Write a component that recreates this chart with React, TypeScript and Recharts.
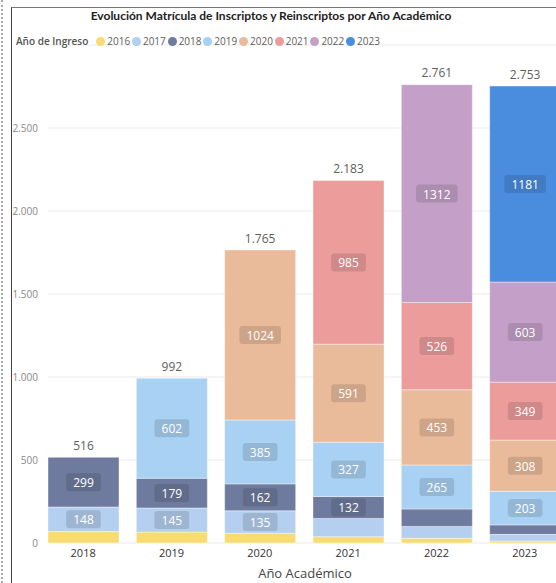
import React from "react";
import { BarChart, Bar, XAxis, YAxis, CartesianGrid, LabelList } from "recharts";

// Año académico (eje X)
const years = ["2018", "2019", "2020", "2021", "2022", "2023"];
// Año de ingreso (series apiladas)
const ingresos = ["2016", "2017", "2018", "2019", "2020", "2021", "2022", "2023"];

const ing2016 = [69, 66, 59, 38, 28, 12];
const ing2017 = [148, 145, 135, 110, 72, 40];
const ing2018 = [299, 179, 162, 132, 105, 57];
const ing2019 = [0, 602, 385, 327, 265, 203];
const ing2020 = [0, 0, 1024, 591, 453, 308];
const ing2021 = [0, 0, 0, 985, 526, 349];
const ing2022 = [0, 0, 0, 0, 1312, 603];
const ing2023 = [0, 0, 0, 0, 0, 1181];

const yTicks = [0, 500, 1000, 1500, 2000, 2500];

const colors = [
  "#F8DC72",
  "#B4CFEF",
  "#6E7B9E",
  "#A9D1F3",
  "#EABB9A",
  "#EC9C9B",
  "#C4A0C8",
  "#4A8CDE",
];

const series = [ing2016, ing2017, ing2018, ing2019, ing2020, ing2021, ing2022, ing2023];

const data = years.map((year, i) => {
  const row: Record<string, any> = { year };
  let total = 0;
  series.forEach((s, k) => {
    row["i" + ingresos[k]] = s[i];
    total += s[i];
  });
  row.total = total;
  return row;
});

const FONT = "'Segoe UI', 'Open Sans', sans-serif";

const CHART_W = 580;
const PLOT_LEFT = 39;
const PLOT_RIGHT = 11;
const BAND = (CHART_W - PLOT_LEFT - PLOT_RIGHT) / years.length;

const fmt = (n: number) => String(n).replace(/\B(?=(\d{3})+(?!\d))/g, ".");

// last non-zero series in a column gets the total above it
const topIndex = (i: number) => {
  let top = 0;
  series.forEach((s, k) => {
    if (s[i] > 0) top = k;
  });
  return top;
};

const makeLabel = (k: number) => (props: any) => {
  const { x, y, width, height } = props;
  const cx = x + width / 2;
  // which column this rect belongs to (zero-height rects are skipped, so index is unreliable)
  const col = Math.max(0, Math.min(years.length - 1, Math.floor((cx - PLOT_LEFT) / BAND)));
  const v = series[k][col];
  const out: React.ReactNode[] = [];
  if (v >= 120) {
    const w = String(v).length * 6.9 + 14;
    out.push(
      <g key="seg">
        <rect x={cx - w / 2} y={y + height / 2 - 9} width={w} height={18} rx={3} fill="rgba(0,0,0,0.12)" />
        <text
          x={cx}
          y={y + height / 2 + 0.5}
          textAnchor="middle"
          dominantBaseline="central"
          fill="#FFFFFF"
          fontSize={12}
          fontFamily={FONT}
        >
          {v}
        </text>
      </g>
    );
  }
  if (v > 0 && topIndex(col) === k) {
    out.push(
      <text
        key="tot"
        x={cx}
        y={y - 12}
        textAnchor="middle"
        dominantBaseline="central"
        fill="#605E5C"
        fontSize={12}
        fontFamily={FONT}
      >
        {fmt(data[col].total)}
      </text>
    );
  }
  return <g>{out}</g>;
};

export default function App() {
  return (
    <div
      style={{
        position: "fixed",
        left: 0,
        top: 0,
        width: 556,
        height: 583,
        overflow: "hidden",
        background: "#fff",
        fontFamily: FONT,
      }}
    >
      <div style={{ position: "absolute", left: 1, top: 0, height: 583, borderLeft: "2px dotted #AAA" }} />
      <div style={{ position: "absolute", left: 11, top: 7, width: 560, height: 575, borderLeft: "1px solid #444", borderTop: "1px solid #777", borderBottom: "1px solid #E3E3E3" }} />

      <div style={{ position: "absolute", top: 0, left: 0 }}>
        <BarChart width={CHART_W} height={583} data={data} margin={{ top: 45, right: PLOT_RIGHT, left: 0, bottom: 0 }}>
          <CartesianGrid vertical={false} stroke="#EBEBEB" x={48} width={CHART_W - PLOT_RIGHT - 48} />
          <XAxis
            dataKey="year"
            height={40}
            axisLine={false}
            tickLine={false}
            tickSize={0}
            tickMargin={6}
            tick={{ fontSize: 11, fill: "#333", fontFamily: FONT }}
          />
          <YAxis
            width={PLOT_LEFT}
            domain={[0, 3000]}
            ticks={yTicks}
            tickFormatter={fmt}
            axisLine={false}
            tickLine={false}
            tickSize={0}
            tickMargin={1}
            tick={{ fontSize: 10, fill: "#888", fontFamily: FONT }}
          />
          {ingresos.map((ing, k) => (
            <Bar
              key={ing}
              dataKey={"i" + ing}
              stackId="a"
              fill={colors[k]}
              stroke="rgba(255,255,255,0.5)"
              strokeWidth={0.8}
              barSize={71}
              isAnimationActive={false}
            >
              <LabelList dataKey={"i" + ing} content={makeLabel(k)} />
            </Bar>
          ))}
        </BarChart>
      </div>

      <div
        style={{
          position: "absolute",
          top: 8,
          left: 11,
          width: 520,
          textAlign: "center",
          fontWeight: 700,
          fontSize: 12,
          fontFamily: "Lato, 'Open Sans', sans-serif",
          color: "#222",
        }}
      >
        Evolución Matrícula de Inscriptos y Reinscriptos por Año Académico
      </div>

      <div
        style={{
          position: "absolute",
          top: 34,
          left: 16,
          display: "flex",
          alignItems: "center",
          fontSize: 10,
          color: "#605E5C",
          whiteSpace: "nowrap",
        }}
      >
        <span style={{ fontWeight: 600, color: "#555", marginRight: 8 }}>Año de Ingreso</span>
        {ingresos.map((ing, k) => (
          <span key={ing} style={{ display: "flex", alignItems: "center", width: 35.7 }}>
            <span
              style={{
                width: 9,
                height: 9,
                borderRadius: "50%",
                background: colors[k],
                display: "inline-block",
                marginRight: 2,
              }}
            />
            {ing}
          </span>
        ))}
      </div>

      <div
        style={{
          position: "absolute",
          top: 564,
          left: 205,
          width: 200,
          textAlign: "center",
          fontSize: 13,
          color: "#444",
        }}
      >
        Año Académico
      </div>
    </div>
  );
}
